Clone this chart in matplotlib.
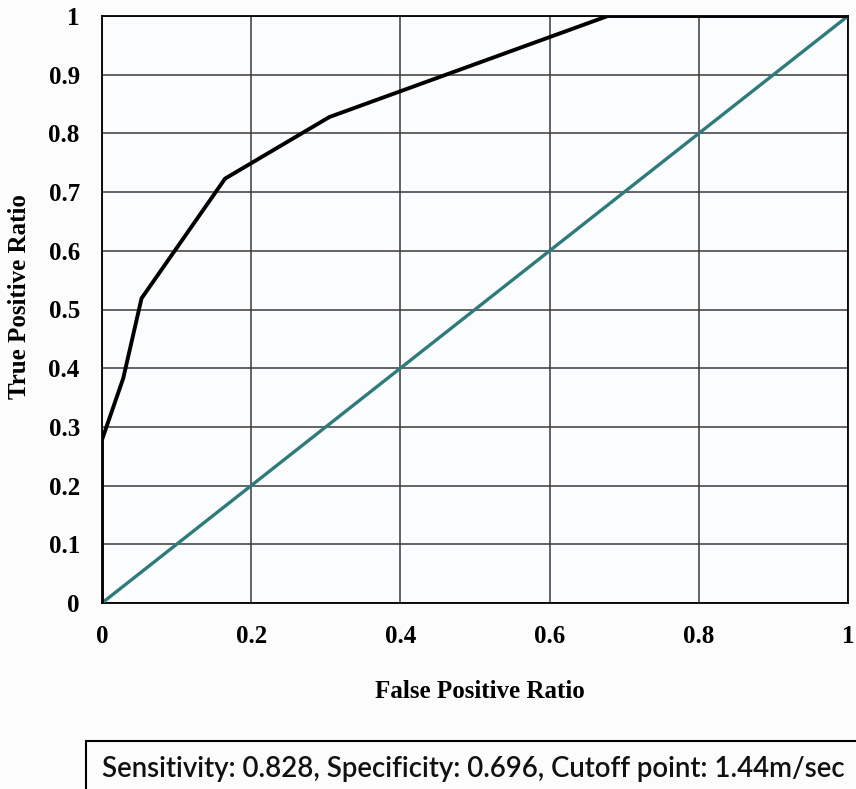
import matplotlib
matplotlib.use("Agg")
import matplotlib.pyplot as plt
from matplotlib.patches import Rectangle

# ROC curve points (False Positive Ratio, True Positive Ratio)
fpr = [0.0, 0.0, 0.0285, 0.053, 0.165, 0.305, 0.678, 1.0]
tpr = [0.0, 0.278, 0.383, 0.519, 0.723, 0.828, 1.0, 1.0]
# reference diagonal
diag_x = [0.0, 1.0]
diag_y = [0.0, 1.0]
ticks = [0, 0.2, 0.4, 0.6, 0.8, 1]
tick_labels = ["0", "0.2", "0.4", "0.6", "0.8", "1"]
yticks = [0, 0.1, 0.2, 0.3, 0.4, 0.5, 0.6, 0.7, 0.8, 0.9, 1]
ytick_labels = ["0", "0.1", "0.2", "0.3", "0.4", "0.5", "0.6", "0.7", "0.8", "0.9", "1"]
note = "Sensitivity: 0.828, Specificity: 0.696, Cutoff point: 1.44m/sec"

W, H = 856, 789
fig = plt.figure(figsize=(W / 100, H / 100), dpi=100, facecolor="#fcfcfd")
ax = fig.add_axes([102 / W, (H - 603) / H, 746 / W, 587 / H])
ax.set_facecolor("#fbfcfe")

ax.plot(diag_x, diag_y, color="#2f7b7b", lw=2.4, zorder=3, solid_capstyle="butt")
ax.plot(fpr, tpr, color="black", lw=2.8, zorder=4, solid_joinstyle="miter")

ax.set_xlim(0, 1)
ax.set_ylim(0, 1)
ax.set_xticks(ticks)
ax.set_xticklabels(tick_labels)
ax.set_yticks(yticks)
ax.set_yticklabels(ytick_labels)
ax.tick_params(length=0, pad=16)
for lab in ax.get_xticklabels() + ax.get_yticklabels():
    lab.set_fontfamily("Liberation Serif")
    lab.set_fontweight("bold")
    lab.set_fontsize(18)
ax.grid(True, color="#3a3a3a", lw=1.1)
ax.set_axisbelow(True)
for s in ax.spines.values():
    s.set_color("black")
    s.set_linewidth(1.3)

fig.text(480 / W, (H - 692) / H, "False Positive Ratio", ha="center", va="center",
         fontfamily="Liberation Serif", fontweight="bold", fontsize=18)
fig.text(20 / W, (H - 297) / H, "True Positive Ratio", ha="center", va="center",
         rotation=90, fontfamily="Liberation Serif", fontweight="bold", fontsize=18)

# note box, cut off by the figure's right and bottom edges
box = Rectangle((86 / W, -0.05), 1.0, (H - 741) / H + 0.05, transform=fig.transFigure,
                facecolor="none", edgecolor="black", lw=1.5, clip_on=False)
fig.add_artist(box)

t = fig.text(102 / W, (H - 777) / H, note, ha="left", va="baseline",
             fontfamily="Lato", fontweight="semibold", fontsize=20, color="#111111")
fig.canvas.draw()
bb = t.get_window_extent()
t.set_fontsize(20 * 745 / bb.width)

fig.savefig("out.png", dpi=100, facecolor=fig.get_facecolor())
